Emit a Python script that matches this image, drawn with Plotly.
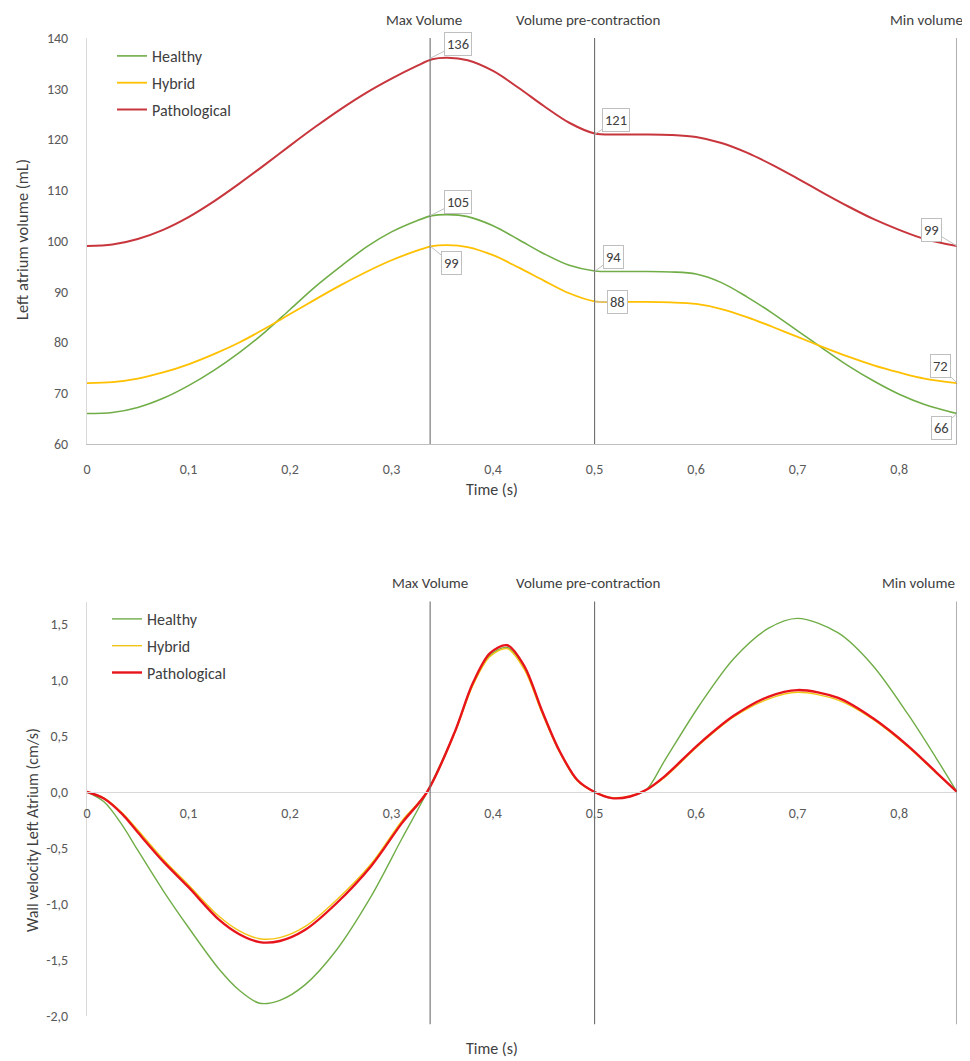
import plotly.graph_objects as go

# ---------------- data ----------------
series_names = ["Healthy", "Hybrid", "Pathological"]

t_vol = [0, 0.025, 0.05, 0.075, 0.1, 0.125, 0.15, 0.175, 0.2, 0.225, 0.25, 0.275, 0.3,
         0.325, 0.34, 0.355, 0.375, 0.4, 0.425, 0.45, 0.475, 0.5, 0.525, 0.55, 0.575,
         0.6, 0.625, 0.65, 0.675, 0.7, 0.725, 0.75, 0.775, 0.8, 0.825, 0.857]
vol_healthy = [66, 66.2, 67.2, 69, 71.5, 74.5, 78, 82, 86.5, 91, 95, 98.8, 101.8,
               104, 105, 105.2, 104.8, 103, 100.3, 97.5, 95.2, 94.1, 94, 94, 93.9,
               93.5, 91.8, 89, 85.8, 82.3, 78.8, 75.4, 72.4, 69.8, 67.8, 66]
vol_hybrid = [72, 72.2, 72.9, 74.1, 75.7, 77.7, 80, 82.7, 85.6, 88.5, 91.3, 93.9, 96.2,
              98.1, 99, 99.2, 98.8, 97.2, 94.8, 92.2, 89.7, 88.1, 88, 88, 87.9,
              87.6, 86.6, 85, 83.1, 81.1, 79.1, 77.2, 75.5, 74.1, 72.9, 72]
vol_patho = [99, 99.3, 100.4, 102.2, 104.7, 107.8, 111.3, 115, 118.8, 122.5, 126, 129.2, 132,
             134.5, 135.8, 136.1, 135.6, 133.5, 130.2, 126.6, 123.3, 121.2, 121, 121, 120.9,
             120.5, 119.3, 117.4, 115, 112.3, 109.5, 106.8, 104.3, 102.2, 100.4, 99]

t_vel = [0, 0.017, 0.035, 0.05, 0.075, 0.1, 0.13, 0.15, 0.17, 0.19, 0.215, 0.245, 0.28,
         0.31, 0.335, 0.362, 0.38, 0.397, 0.414, 0.431, 0.448, 0.465, 0.483, 0.5, 0.517,
         0.535, 0.551, 0.569, 0.603, 0.637, 0.671, 0.70, 0.74, 0.774, 0.809, 0.836, 0.857]
vel_healthy = [0, -0.09, -0.3, -0.52, -0.88, -1.21, -1.58, -1.77, -1.886, -1.86, -1.72, -1.42, -0.93,
               -0.42, 0, 0.53, 0.96, 1.22, 1.29, 1.11, 0.72, 0.37, 0.1, 0, -0.055,
               -0.04, 0.02, 0.28, 0.77, 1.19, 1.46, 1.55, 1.42, 1.13, 0.69, 0.31, 0]
vel_hybrid = [0, -0.055, -0.19, -0.34, -0.6, -0.83, -1.11, -1.24, -1.31, -1.30, -1.2, -0.97, -0.64,
              -0.26, 0, 0.52, 0.95, 1.21, 1.28, 1.09, 0.71, 0.365, 0.1, 0, -0.05,
              -0.035, 0.02, 0.13, 0.42, 0.67, 0.83, 0.89, 0.82, 0.65, 0.40, 0.175, 0]
vel_patho = [0, -0.06, -0.2, -0.36, -0.62, -0.85, -1.14, -1.27, -1.34, -1.33, -1.23, -1.0, -0.66,
             -0.28, 0, 0.53, 0.97, 1.24, 1.31, 1.12, 0.73, 0.375, 0.107, 0, -0.055,
             -0.04, 0.02, 0.14, 0.43, 0.68, 0.85, 0.91, 0.84, 0.66, 0.41, 0.18, 0]

event_names = ["Max Volume", "Volume pre-contraction", "Min volume"]
event_times = [0.338, 0.5, 0.857]
marks_healthy = [105, 94, 66]
marks_hybrid = [99, 88, 72]
marks_patho = [136, 121, 99]

x_tickvals = [0, 0.1, 0.2, 0.3, 0.4, 0.5, 0.6, 0.7, 0.8]
x_ticktext = ["0", "0,1", "0,2", "0,3", "0,4", "0,5", "0,6", "0,7", "0,8"]
vel_tickvals = [-2.0, -1.5, -1.0, -0.5, 0.0, 0.5, 1.0, 1.5]
vel_ticktext = ["-2,0", "-1,5", "-1,0", "-0,5", "0,0", "0,5", "1,0", "1,5"]

# ---------------- style ----------------
FONT = "Carlito, Calibri, Lato, sans-serif"
TXT = "#404040"
TICK = "#595959"
OFF = 8  # page body margin
W, H = 970 - OFF, 1061 - OFF
ML, MR, MT, MB = 87 - OFF, 13, 38 - OFF, 45
plot_h = H - MT - MB
plot_w = W - ML - MR


def py(p):  # page pixel y -> paper y
    return (H - MB - (p - OFF)) / plot_h


def px(p):  # page pixel x -> paper x
    return (p - OFF - ML) / plot_w


top_dom = [py(444), 1.0]
vel_range = [-2.0, 1.7]
bot_dom = [0.0, py(1016 - (vel_range[1] - vel_range[0]) * 112)]

colors_top = ["#70AD47", "#FFC000", "#C8363D"]
colors_bot = ["#70AD47", "#F2C515", "#E8141C"]
widths_top = [1.6, 1.8, 2.0]
widths_bot = [1.4, 1.4, 2.4]

fig = go.Figure()
for i, (name, ys) in enumerate(zip(series_names, [vol_healthy, vol_hybrid, vol_patho])):
    fig.add_trace(go.Scatter(x=t_vol, y=ys, name=name, mode="lines",
                             line=dict(color=colors_top[i], width=widths_top[i], shape="spline", smoothing=0.9),
                             xaxis="x", yaxis="y", legend="legend", legendgroup="t" + name))
for i, (name, ys) in enumerate(zip(series_names, [vel_healthy, vel_hybrid, vel_patho])):
    fig.add_trace(go.Scatter(x=t_vel, y=ys, name=name, mode="lines",
                             line=dict(color=colors_bot[i], width=widths_bot[i], shape="spline", smoothing=0.9),
                             xaxis="x2", yaxis="y2", legend="legend2", legendgroup="b" + name))

shapes = []
annotations = []
for xr, yr in [("x", "y"), ("x2", "y2")]:
    for t in event_times:
        shapes.append(dict(type="line", xref=xr, yref=yr + " domain", x0=t, x1=t,
                           y0=0 if yr == "y" else -0.02, y1=1,
                           line=dict(color="#6F6F6F", width=1.1)))

label_y = [py(20), py(583)]
shifts = [[(-6, "center"), (-7, "center"), (8, "right")],
          [(0, "center"), (-7, "center"), (0, "right")]]
for k, yy in enumerate(label_y):
    for j, (nm, t) in enumerate(zip(event_names, event_times)):
        sh, anc = shifts[k][j]
        annotations.append(dict(x=t, y=yy, xref="x" if k == 0 else "x2", yref="paper", text=nm,
                                showarrow=False, xanchor=anc, yanchor="middle", xshift=sh,
                                font=dict(family=FONT, size=15, color=TXT)))

# data labels on top chart (offsets of the label box, in pixels)
offsets = {
    "Healthy": [(28, -14), (19, -14), (-16, 14)],
    "Hybrid": [(21, 17), (23, 0), (-17, -17)],
    "Pathological": [(28, -14), (21, -14), (-26, -16)],
}
for name, marks in zip(series_names, [marks_healthy, marks_hybrid, marks_patho]):
    for j, (t, v) in enumerate(zip(event_times, marks)):
        ax, ay = offsets[name][j]
        annotations.append(dict(x=t, y=v, xref="x", yref="y", text=str(v), showarrow=True,
                                ax=ax, ay=ay, arrowhead=0, arrowwidth=1, arrowcolor="#BFBFBF",
                                bgcolor="white", bordercolor="#BFBFBF", borderwidth=1, borderpad=2,
                                font=dict(family=FONT, size=14.5, color=TXT)))

# axis titles
title_specs = [
    ("Time (s)", 492, 490, 0, 16),
    ("Time (s)", 492, 1048, 0, 16),
    ("Left atrium volume (mL)", 22, 240, -90, 16.5),
    ("Wall velocity Left Atrium (cm/s)", 32, 830, -90, 16),
]
for txt, xx, yy, ang, fs in title_specs:
    annotations.append(dict(x=px(xx), y=py(yy), xref="paper", yref="paper", text=txt, showarrow=False,
                            textangle=ang, xanchor="center", yanchor="middle",
                            font=dict(family=FONT, size=fs, color=TXT)))

zero_pos = bot_dom[0] + (bot_dom[1] - bot_dom[0]) * (0 - vel_range[0]) / (vel_range[1] - vel_range[0])

tickfont = dict(family=FONT, size=14, color=TICK)
legfont = dict(family=FONT, size=16, color=TXT)
fig.update_layout(
    template="none",
    width=W, height=H, margin=dict(l=ML, r=MR, t=MT, b=MB, autoexpand=False),
    paper_bgcolor="white", plot_bgcolor="white",
    font=dict(family=FONT, color=TXT),
    xaxis=dict(domain=[0, 1], range=[0, 0.857], anchor="y", tickvals=x_tickvals, ticktext=x_ticktext,
               showgrid=False, zeroline=False, showline=True, linecolor="#BFBFBF", linewidth=1,
               ticks="", ticklabelstandoff=12, tickfont=tickfont, automargin=False),
    yaxis=dict(domain=top_dom, range=[60, 140], anchor="x", dtick=10, showgrid=False, zeroline=False,
               showline=True, linecolor="#D9D9D9", linewidth=1, ticks="", ticklabelstandoff=15,
               tickfont=tickfont, automargin=False),
    xaxis2=dict(domain=[0, 1], range=[0, 0.857], anchor="free", position=zero_pos,
                tickvals=x_tickvals, ticktext=x_ticktext, showgrid=False, zeroline=False,
                showline=True, linecolor="#D9D9D9", linewidth=1, ticks="", ticklabelstandoff=8,
                tickfont=tickfont, automargin=False),
    yaxis2=dict(domain=bot_dom, range=vel_range, anchor="x2", tickvals=vel_tickvals, ticktext=vel_ticktext,
                showgrid=False, zeroline=False, showline=True, linecolor="#D9D9D9", linewidth=1,
                ticks="", ticklabelstandoff=15, tickfont=tickfont, automargin=False),
    legend=dict(x=px(112), y=py(39), xanchor="left", yanchor="top", bgcolor="rgba(0,0,0,0)",
                font=legfont, traceorder="grouped", tracegroupgap=3, itemwidth=30),
    legend2=dict(x=px(107), y=py(602), xanchor="left", yanchor="top", bgcolor="rgba(0,0,0,0)",
                 font=legfont, traceorder="grouped", tracegroupgap=3, itemwidth=30),
    shapes=shapes, annotations=annotations,
)

fig.write_html("out.html")
